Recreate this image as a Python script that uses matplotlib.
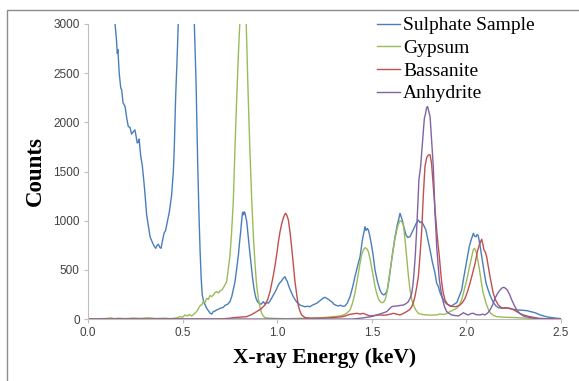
import matplotlib
matplotlib.use("Agg")
import matplotlib.pyplot as plt
from matplotlib.patches import Rectangle

# Sulphate sample spectrum (energy keV, counts)
sample_e = [0.10, 0.12, 0.135, 0.143, 0.150, 0.155, 0.158, 0.165, 0.173, 0.178, 0.185, 0.196, 0.205, 0.213,
            0.222, 0.230, 0.240, 0.248, 0.255, 0.260, 0.266, 0.270, 0.279, 0.287, 0.292, 0.300, 0.310, 0.318,
            0.328, 0.340, 0.350, 0.358, 0.365, 0.372, 0.379, 0.386, 0.394, 0.402, 0.410, 0.416, 0.425, 0.430,
            0.436, 0.442, 0.451, 0.456, 0.463, 0.470, 0.477, 0.500, 0.520, 0.545, 0.562, 0.571, 0.580, 0.586,
            0.592, 0.598, 0.604, 0.612, 0.620, 0.627, 0.636, 0.645, 0.654, 0.662, 0.670, 0.680, 0.690, 0.700,
            0.715, 0.725, 0.738, 0.750, 0.760, 0.770, 0.777, 0.786, 0.795, 0.801, 0.807, 0.812, 0.817, 0.822,
            0.826, 0.830, 0.835, 0.839, 0.846, 0.853, 0.862, 0.870, 0.879, 0.888, 0.896, 0.905, 0.915, 0.927,
            0.936, 0.945, 0.953, 0.962, 0.970, 0.980, 0.993, 1.006, 1.015, 1.024, 1.032, 1.041, 1.048, 1.054,
            1.059, 1.068, 1.077, 1.085, 1.095, 1.104, 1.111, 1.120, 1.130, 1.147, 1.160, 1.173, 1.185, 1.197,
            1.209, 1.222, 1.235, 1.245, 1.253, 1.262, 1.271, 1.280, 1.288, 1.300, 1.310, 1.323, 1.335, 1.345,
            1.358, 1.370, 1.385, 1.398, 1.411, 1.425, 1.438, 1.450, 1.458, 1.464, 1.470, 1.476, 1.482, 1.490,
            1.500, 1.509, 1.517, 1.530, 1.543, 1.552, 1.564, 1.573, 1.582, 1.591, 1.600, 1.612, 1.623, 1.635,
            1.643, 1.649, 1.655, 1.661, 1.670, 1.681, 1.690, 1.702, 1.712, 1.723, 1.734, 1.746, 1.755, 1.764,
            1.775, 1.786, 1.797, 1.808, 1.820, 1.834, 1.843, 1.852, 1.862, 1.870, 1.883, 1.896, 1.910, 1.922,
            1.935, 1.949, 1.962, 1.975, 1.984, 1.993, 2.004, 2.015, 2.026, 2.037, 2.044, 2.051, 2.057, 2.063,
            2.072, 2.081, 2.092, 2.104, 2.116, 2.128, 2.142, 2.156, 2.170, 2.187, 2.205, 2.222, 2.245, 2.266,
            2.290, 2.319, 2.340, 2.363, 2.385, 2.407, 2.430, 2.451, 2.475, 2.495]
sample_c = [6000, 4200, 3300, 3000, 2850, 2700, 2740, 2500, 2350, 2330, 2200, 2160, 2040, 1956,
            1950, 1880, 1905, 1923, 1850, 1790, 1800, 1831, 1651, 1560, 1465, 1300, 1058, 960,
            837, 780, 740, 719, 750, 760, 730, 719, 800, 872, 900, 956, 1040, 1091,
            1180, 1261, 1498, 1736, 2245, 2600, 3000, 5500, 7000, 5000, 3000, 2414, 1567, 1100,
            719, 420, 244, 170, 140, 110, 85, 60, 50, 75, 80, 92, 100, 110,
            118, 140, 150, 176, 230, 320, 380, 520, 651, 780, 888, 1000, 1085, 1060,
            1090, 1075, 1030, 990, 850, 719, 560, 414, 290, 210, 175, 160, 150, 176,
            150, 170, 160, 185, 210, 244, 290, 346, 370, 390, 414, 430, 400, 380,
            346, 300, 260, 227, 195, 170, 160, 142, 135, 125, 130, 125, 140, 150,
            160, 180, 200, 215, 220, 210, 200, 185, 176, 150, 140, 132, 140, 130,
            132, 160, 227, 320, 430, 540, 634, 800, 880, 939, 900, 920, 905, 840,
            735, 620, 498, 380, 295, 260, 244, 260, 295, 400, 532, 700, 837, 960,
            1020, 1075, 1040, 1007, 930, 854, 830, 837, 880, 922, 970, 1007, 980, 990,
            950, 905, 800, 702, 580, 465, 363, 329, 260, 227, 180, 153, 140, 132,
            150, 166, 230, 295, 400, 498, 620, 735, 810, 872, 840, 837, 860, 844,
            750, 634, 500, 363, 290, 227, 170, 132, 115, 109, 115, 109, 100, 92,
            90, 85, 75, 64, 45, 31, 20, 14, 8, 5]

# Gypsum reference
gypsum_e = [0.0, 0.10, 0.12, 0.14, 0.16, 0.20, 0.24, 0.28, 0.32, 0.36, 0.40, 0.44, 0.47, 0.486, 0.50, 0.513,
            0.525, 0.535, 0.548, 0.560, 0.574, 0.585, 0.594, 0.601, 0.610, 0.618, 0.627, 0.636, 0.645, 0.654,
            0.662, 0.672, 0.680, 0.690, 0.698, 0.707, 0.716, 0.724, 0.733, 0.742, 0.750, 0.758, 0.768, 0.777,
            0.786, 0.795, 0.803, 0.812, 0.822, 0.832, 0.840, 0.847, 0.856, 0.865, 0.874, 0.883, 0.891, 0.900,
            0.909, 0.918, 0.927, 0.935, 0.96, 1.0, 1.05, 1.10, 1.15, 1.20, 1.25, 1.297, 1.33, 1.350, 1.368,
            1.385, 1.398, 1.411, 1.420, 1.429, 1.438, 1.446, 1.455, 1.464, 1.473, 1.482, 1.491, 1.500, 1.509,
            1.517, 1.526, 1.534, 1.543, 1.552, 1.561, 1.570, 1.579, 1.587, 1.598, 1.610, 1.621, 1.632, 1.640,
            1.649, 1.658, 1.667, 1.675, 1.684, 1.693, 1.702, 1.711, 1.720, 1.733, 1.746, 1.77, 1.79, 1.82,
            1.843, 1.86, 1.88, 1.90, 1.913, 1.93, 1.949, 1.962, 1.975, 1.988, 2.002, 2.015, 2.028, 2.036,
            2.042, 2.048, 2.054, 2.063, 2.072, 2.080, 2.089, 2.098, 2.107, 2.118, 2.128, 2.145, 2.16, 2.2,
            2.25, 2.3, 2.35, 2.4, 2.5]
gypsum_c = [0, 5, 12, 3, 8, 4, 10, 6, 12, 5, 8, 4, 12, 24, 18, 41,
            30, 45, 31, 50, 75, 110, 140, 142, 180, 165, 210, 200, 240, 227,
            244, 270, 278, 265, 285, 295, 320, 346, 380, 516, 640, 850, 1200, 1750,
            2245, 2700, 3050, 3400, 3550, 3300, 2750, 2245, 1700, 1228, 850, 549, 350, 210,
            120, 58, 30, 14, 8, 5, 3, 5, 8, 10, 15, 24, 30, 41, 60,
            92, 160, 261, 360, 465, 570, 651, 700, 725, 715, 685, 610, 516, 420,
            329, 260, 210, 180, 166, 170, 193, 260, 363, 510, 668, 800, 905, 960,
            1000, 990, 956, 820, 634, 450, 295, 200, 142, 90, 58, 45, 41, 40,
            41, 51, 45, 60, 75, 90, 109, 140, 193, 290, 397, 520, 634, 700,
            719, 700, 668, 570, 465, 360, 261, 200, 142, 90, 58, 35, 24, 18,
            15, 10, 5, 2, 0]

# Bassanite reference
bassanite_e = [0.0, 0.70, 0.75, 0.768, 0.80, 0.839, 0.865, 0.891, 0.913, 0.935, 0.950, 0.962, 0.971, 0.980,
               0.989, 0.997, 1.006, 1.015, 1.024, 1.032, 1.040, 1.045, 1.052, 1.059, 1.068, 1.077, 1.086,
               1.094, 1.103, 1.111, 1.120, 1.129, 1.147, 1.18, 1.25, 1.30, 1.35, 1.385, 1.40, 1.42, 1.44,
               1.455, 1.47, 1.49, 1.51, 1.543, 1.56, 1.579, 1.60, 1.614, 1.63, 1.649, 1.665, 1.684, 1.700,
               1.711, 1.720, 1.728, 1.737, 1.746, 1.755, 1.764, 1.772, 1.781, 1.790, 1.799, 1.808, 1.816,
               1.825, 1.834, 1.843, 1.850, 1.857, 1.864, 1.870, 1.878, 1.887, 1.900, 1.913, 1.927, 1.940,
               1.953, 1.966, 1.980, 1.993, 2.006, 2.019, 2.032, 2.046, 2.057, 2.068, 2.076, 2.081, 2.087,
               2.093, 2.100, 2.107, 2.116, 2.125, 2.134, 2.142, 2.155, 2.169, 2.182, 2.195, 2.212, 2.230,
               2.248, 2.266, 2.284, 2.301, 2.325, 2.354, 2.38, 2.42, 2.5]
bassanite_c = [0, 0, 8, 14, 18, 24, 45, 75, 100, 142, 200, 278, 360, 448,
               550, 651, 780, 888, 970, 1024, 1065, 1075, 1050, 1007, 880, 719, 540,
               380, 250, 142, 80, 41, 14, 8, 10, 15, 25, 48, 52, 58, 50,
               58, 45, 31, 35, 41, 38, 41, 50, 58, 50, 41, 55, 75, 95,
               125, 170, 227, 320, 430, 650, 905, 1250, 1550, 1640, 1668, 1670, 1580,
               1350, 1120, 905, 760, 634, 480, 363, 260, 193, 150, 132, 128, 125,
               130, 142, 170, 210, 280, 363, 460, 566, 680, 753, 790, 811, 760,
               702, 680, 634, 530, 430, 340, 261, 190, 142, 120, 109, 112, 109,
               95, 75, 55, 41, 28, 17, 8, 3, 0]

# Anhydrite reference
anhydrite_e = [0.0, 1.40, 1.45, 1.50, 1.526, 1.55, 1.579, 1.592, 1.605, 1.618, 1.632, 1.65, 1.667, 1.680,
               1.693, 1.702, 1.711, 1.717, 1.723, 1.730, 1.737, 1.743, 1.749, 1.758, 1.764, 1.769, 1.774,
               1.778, 1.783, 1.790, 1.795, 1.800, 1.808, 1.816, 1.825, 1.830, 1.834, 1.839, 1.843, 1.850,
               1.857, 1.866, 1.875, 1.885, 1.896, 1.910, 1.922, 1.940, 1.957, 1.970, 1.984, 1.997, 2.010,
               2.024, 2.037, 2.050, 2.072, 2.085, 2.098, 2.112, 2.125, 2.138, 2.151, 2.165, 2.178, 2.190,
               2.199, 2.208, 2.216, 2.228, 2.240, 2.253, 2.266, 2.283, 2.301, 2.336, 2.37, 2.40, 2.5]
anhydrite_c = [0, 0, 10, 25, 41, 55, 75, 100, 125, 130, 132, 138, 142, 155,
               176, 210, 261, 340, 465, 650, 905, 1150, 1414, 1549, 1700, 1821, 1950,
               2042, 2080, 2150, 2160, 2120, 2058, 1821, 1549, 1300, 1075, 900, 735, 560,
               397, 280, 193, 120, 75, 55, 41, 35, 31, 45, 64, 50, 41,
               55, 58, 45, 41, 50, 41, 60, 92, 140, 210, 260, 295, 318,
               322, 310, 295, 250, 193, 140, 92, 55, 31, 14, 5, 0, 0]

labels = ["Sulphate Sample", "Gypsum", "Bassanite", "Anhydrite"]
colors = ["#4a7ebb", "#9bbb59", "#c0504d", "#8064a2"]

fig = plt.figure(figsize=(5.79, 3.81), dpi=100)
ax = fig.add_axes([88 / 579, 1 - 319 / 381, (561 - 88) / 579, (319 - 24) / 381])

# grey frame around the whole chart
fig.patches.append(Rectangle((7 / 579, -0.1), 1.2, 1.1 - 10 / 381, transform=fig.transFigure,
                             fill=False, edgecolor="#8c8c8c", linewidth=1.0))

series = [(sample_e, sample_c), (gypsum_e, gypsum_c), (bassanite_e, bassanite_c), (anhydrite_e, anhydrite_c)]
for (e, c), lab, col in zip(series, labels, colors):
    ax.plot(e, c, color=col, linewidth=1.0, label=lab)

ax.set_xlim(0, 2.5)
ax.set_ylim(0, 3000)
ax.set_xticks([0.0, 0.5, 1.0, 1.5, 2.0, 2.5])
ax.set_xticklabels(["0.0", "0.5", "1.0", "1.5", "2.0", "2.5"])
ax.set_yticks([0, 500, 1000, 1500, 2000, 2500, 3000])
for s in ["top", "right"]:
    ax.spines[s].set_visible(False)
for s in ["left", "bottom"]:
    ax.spines[s].set_color("#bfbfbf")
ax.tick_params(direction="out", length=3, color="#bfbfbf", labelsize=8.5, labelcolor="#404040", pad=3)
for t in ax.get_xticklabels() + ax.get_yticklabels():
    t.set_family("Liberation Sans")

ax.set_xlabel("X-ray Energy (keV)", family="Liberation Serif", fontweight="bold", fontsize=15.5, labelpad=6)
ax.set_ylabel("Counts", family="Liberation Serif", fontweight="bold", fontsize=16.5, labelpad=5)

ax.legend(loc="upper left", bbox_to_anchor=(369 / 579, 1 - 9 / 381), bbox_transform=fig.transFigure,
          frameon=False, prop={"family": "Liberation Serif", "size": 14},
          handlelength=1.2, handletextpad=0.15, labelspacing=0.26, borderaxespad=0)

fig.savefig("out.png", dpi=100)
